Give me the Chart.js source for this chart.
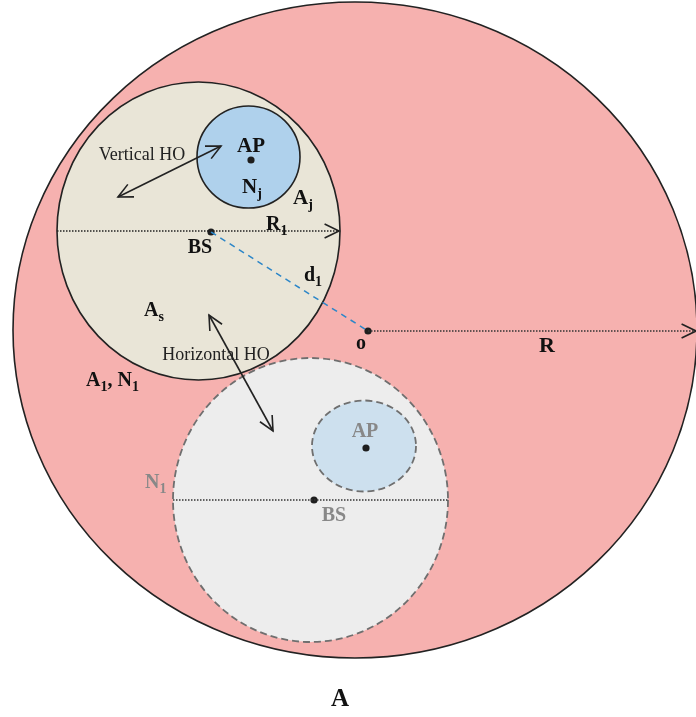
<!DOCTYPE html>
<html><head><meta charset="utf-8">
<script src="https://cdn.jsdelivr.net/npm/chart.js@4/dist/chart.umd.min.js"></script>
<style>html,body{margin:0;padding:0;background:#fff;overflow:hidden}#wrap{width:696px;height:717px;position:relative}</style>
</head><body><div id="wrap"><canvas id="c"></canvas></div>
<script>
// ---- regions (ellipses): centre and radii in diagram units ----
const regionNames = ['A', 'N1', 'AP2', 'As', 'APj'];
const regionCX = [355, 310.5, 364, 198.5, 248.5];
const regionCY = [330, 500, 446, 231, 157];
const regionRX = [342, 137.5, 52, 141.5, 51.5];
const regionRY = [328, 142, 45.5, 149, 51];

// ---- nodes (dots) ----
const nodeNames = ['BS', 'AP', 'o', 'BS2', 'AP2'];
const nodeX = [211, 251, 368, 314, 366];
const nodeY = [232, 160, 331, 500, 448];

// ---- segments ----
const segNames = ['R', 'R1', 'd1', 'N1line', 'vHO', 'hHO'];
const segX1 = [368, 57, 211, 173, 118, 209];
const segY1 = [331, 231, 232, 500, 197, 315];
const segX2 = [696, 339, 368, 448, 221, 273];
const segY2 = [331, 231, 331, 500, 146, 431];

// ---- text labels ----
const labelTexts = ['AP', 'Nj', 'Aj', 'R1', 'BS', 'd1', 'As', 'o', 'R', 'A1N1', 'N1g', 'APg', 'BSg', 'Atitle', 'vHO', 'hHO'];
const labelX = [251, 242, 293, 266, 200, 304, 144, 361, 547, 86, 145, 365, 334, 340, 142, 216];
const labelY = [147, 188, 199, 225, 248, 276, 311, 344, 346, 381, 483, 432, 516, 700, 155, 355];

const regionStyle = {
  A:   {fill:'#F6B1AF', stroke:'#222', dash:[], w:1.6},
  N1:  {fill:'#EDEDED', stroke:'#6f6f6f', dash:[7,4], w:1.8},
  AP2: {fill:'#CDE0EE', stroke:'#6f6f6f', dash:[7,4], w:1.8},
  As:  {fill:'#E9E5D7', stroke:'#222', dash:[], w:1.6},
  APj: {fill:'#AFD1EC', stroke:'#222', dash:[], w:1.6}
};
const segStyle = {
  R:      {color:'#333', dash:[1.5,1.5], w:1.6, head:[0,1]},
  R1:     {color:'#222', dash:[1.5,1.5], w:1.6, head:[0,1]},
  d1:     {color:'#2C86C8', dash:[6,5], w:1.5, head:[0,0]},
  N1line: {color:'#333', dash:[1.5,1.5], w:1.4, head:[0,0]},
  vHO:    {color:'#222', dash:[], w:1.6, head:[1,1]},
  hHO:    {color:'#222', dash:[], w:1.6, head:[1,1]}
};
const labelStyle = {
  AP:   {parts:[['AP',0]], color:'#111', align:'center', size:21, bold:true},
  Nj:   {parts:[['N',0],['j',1]], color:'#111', align:'left', size:21, bold:true},
  Aj:   {parts:[['A',0],['j',1]], color:'#111', align:'left', size:21, bold:true},
  R1:   {parts:[['R',0],['1',1]], color:'#111', align:'left', size:20, bold:true},
  BS:   {parts:[['BS',0]], color:'#111', align:'center', size:20, bold:true},
  d1:   {parts:[['d',0],['1',1]], color:'#111', align:'left', size:20, bold:true},
  As:   {parts:[['A',0],['s',1]], color:'#111', align:'left', size:20, bold:true},
  o:    {parts:[['o',0]], color:'#111', align:'center', size:20, bold:true},
  R:    {parts:[['R',0]], color:'#111', align:'center', size:22, bold:true},
  A1N1: {parts:[['A',0],['1',1],[', ',0],['N',0],['1',1]], color:'#111', align:'left', size:20, bold:true},
  N1g:  {parts:[['N',0],['1',1]], color:'#888', align:'left', size:20, bold:true},
  APg:  {parts:[['AP',0]], color:'#888', align:'center', size:20, bold:true},
  BSg:  {parts:[['BS',0]], color:'#888', align:'center', size:20, bold:true},
  Atitle:{parts:[['A',0]], color:'#111', align:'center', size:25, bold:true},
  vHO:  {parts:[['Vertical HO',0]], color:'#222', align:'center', size:18, bold:false},
  hHO:  {parts:[['Horizontal HO',0]], color:'#222', align:'center', size:18, bold:false}
};

const FONT = '"Liberation Serif","Times New Roman",serif';

const diagramPlugin = {
  id: 'diagram',
  beforeDatasetsDraw(chart) {
    const {ctx, scales:{x, y}} = chart;
    regionNames.forEach((n, i) => {
      const s = regionStyle[n];
      const cx = x.getPixelForValue(regionCX[i]), cy = y.getPixelForValue(regionCY[i]);
      const rx = Math.abs(x.getPixelForValue(regionCX[i] + regionRX[i]) - cx);
      const ry = Math.abs(y.getPixelForValue(regionCY[i] + regionRY[i]) - cy);
      ctx.save();
      ctx.beginPath();
      ctx.ellipse(cx, cy, rx, ry, 0, 0, Math.PI * 2);
      ctx.fillStyle = s.fill; ctx.fill();
      ctx.setLineDash(s.dash); ctx.lineWidth = s.w; ctx.strokeStyle = s.stroke; ctx.stroke();
      ctx.restore();
    });
  },
  afterDatasetsDraw(chart) {
    const {ctx, scales:{x, y}} = chart;
    // arrow heads
    segNames.forEach((n, i) => {
      const s = segStyle[n];
      const p1 = [x.getPixelForValue(segX1[i]), y.getPixelForValue(segY1[i])];
      const p2 = [x.getPixelForValue(segX2[i]), y.getPixelForValue(segY2[i])];
      const drawHead = (tip, from) => {
        const a = Math.atan2(tip[1] - from[1], tip[0] - from[0]);
        const L = 16, h = 0.45;
        ctx.save();
        ctx.setLineDash([]); ctx.strokeStyle = '#222'; ctx.lineWidth = 1.6;
        ctx.beginPath();
        ctx.moveTo(tip[0] - L * Math.cos(a - h), tip[1] - L * Math.sin(a - h));
        ctx.lineTo(tip[0], tip[1]);
        ctx.lineTo(tip[0] - L * Math.cos(a + h), tip[1] - L * Math.sin(a + h));
        ctx.stroke();
        ctx.restore();
      };
      if (s.head[1]) drawHead(p2, p1);
      if (s.head[0]) drawHead(p1, p2);
    });
    // labels
    labelTexts.forEach((n, i) => {
      const s = labelStyle[n];
      const px = x.getPixelForValue(labelX[i]), py = y.getPixelForValue(labelY[i]);
      const w = s.bold ? 'bold ' : '';
      const subSize = Math.round(s.size * 0.68);
      ctx.save();
      ctx.fillStyle = s.color; ctx.textBaseline = 'middle'; ctx.textAlign = 'left';
      let total = 0;
      s.parts.forEach(([t, sub]) => {
        ctx.font = w + (sub ? subSize : s.size) + 'px ' + FONT;
        total += ctx.measureText(t).width;
      });
      let cur = s.align === 'center' ? px - total / 2 : px;
      s.parts.forEach(([t, sub]) => {
        ctx.font = w + (sub ? subSize : s.size) + 'px ' + FONT;
        ctx.fillText(t, cur, sub ? py + s.size * 0.3 : py);
        cur += ctx.measureText(t).width;
      });
      ctx.restore();
    });
  }
};

const lineDatasets = segNames.map((n, i) => ({
  type: 'line',
  label: n,
  data: [{x: segX1[i], y: segY1[i]}, {x: segX2[i], y: segY2[i]}],
  borderColor: segStyle[n].color,
  borderWidth: segStyle[n].w,
  borderDash: segStyle[n].dash,
  pointRadius: 0,
  fill: false,
  clip: false
}));

new Chart(document.getElementById('c'), {
  type: 'scatter',
  data: {
    datasets: [
      ...lineDatasets,
      {
        label: 'nodes',
        data: nodeNames.map((n, i) => ({x: nodeX[i], y: nodeY[i]})),
        pointRadius: 3.6,
        pointBackgroundColor: '#1e1e1e',
        pointBorderWidth: 0,
        clip: false
      }
    ]
  },
  options: {
    responsive: true,
    maintainAspectRatio: false,
    animation: false,
    layout: {padding: 0, autoPadding: false},
    plugins: {legend: {display: false}, tooltip: {enabled: false}},
    scales: {
      x: {type: 'linear', min: 0, max: 696, display: false},
      y: {type: 'linear', min: 0, max: 717, reverse: true, display: false}
    }
  },
  plugins: [diagramPlugin]
});
</script>
</body></html>
